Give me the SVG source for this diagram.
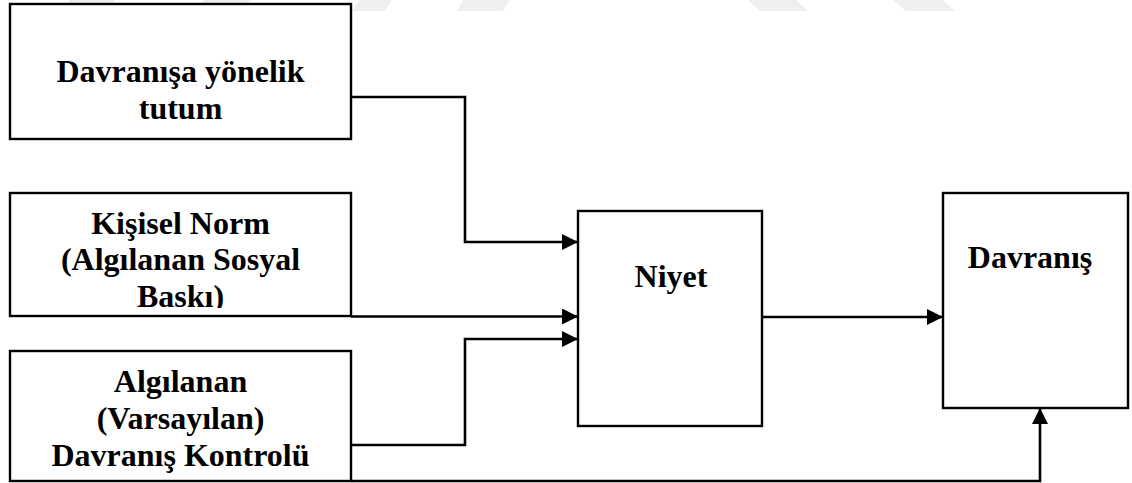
<svg xmlns="http://www.w3.org/2000/svg" width="1132" height="483" viewBox="0 0 1132 483">
<style>
.box{fill:#fff;stroke:#000;stroke-width:2.4}
.lbl{font-family:"Liberation Serif","Times New Roman",serif;font-weight:bold;font-size:32px;fill:#000;text-anchor:middle}
.con{fill:none;stroke:#000;stroke-width:2.6}
.wm{fill:#efefef}
</style>
<defs>
<marker id="arr" markerUnits="userSpaceOnUse" markerWidth="18" markerHeight="17" refX="16" refY="8" orient="auto">
<path d="M0,0 L16,8 L0,16 Z" fill="#000"/>
</marker>
<clipPath id="clip2"><rect x="10" y="193" width="341" height="115"/></clipPath>
</defs>
<rect width="1132" height="483" fill="#fff"/>
<g id="watermark">
<polygon class="wm" points="70,0 115,0 108,11 62,11"/>
<polygon class="wm" points="204,0 250,0 243,11 196,11"/>
<polygon class="wm" points="360,0 392,0 385,11 352,11"/>
<polygon class="wm" points="463,0 510,0 503,11 457,11"/>
<polygon class="wm" points="748,0 796,0 808,11 760,11"/>
<polygon class="wm" points="893,0 942,0 956,11 906,11"/>
</g>
<g id="node-tutum">
<rect class="box" x="10" y="4" width="341" height="135"/>
<text class="lbl" x="180.5" y="82">Davranışa yönelik</text>
<text class="lbl" x="180.5" y="119">tutum</text>
</g>
<g id="node-norm">
<rect class="box" x="10" y="193" width="341" height="123"/>
<g clip-path="url(#clip2)">
<text class="lbl" x="180.5" y="233.5">Kişisel Norm</text>
<text class="lbl" x="180.5" y="270">(Algılanan Sosyal</text>
<text class="lbl" x="180.5" y="307">Baskı)</text>
</g>
</g>
<g id="node-kontrol">
<rect class="box" x="10" y="351" width="341" height="130"/>
<text class="lbl" x="180.5" y="392">Algılanan</text>
<text class="lbl" x="180.5" y="429">(Varsayılan)</text>
<text class="lbl" x="180.5" y="466">Davranış Kontrolü</text>
</g>
<g id="node-niyet">
<rect class="box" x="578" y="211" width="184" height="215"/>
<text class="lbl" x="671" y="287">Niyet</text>
</g>
<g id="node-davranis">
<rect class="box" x="943" y="193" width="185" height="215"/>
<text class="lbl" x="1030" y="268">Davranış</text>
</g>
<g id="connectors">
<path class="con" d="M351,97 H465 V242 H578" marker-end="url(#arr)"/>
<path class="con" d="M351,316.5 H578" marker-end="url(#arr)"/>
<path class="con" d="M351,445 H465 V339 H578" marker-end="url(#arr)"/>
<path class="con" d="M762,317 H943" marker-end="url(#arr)"/>
<path class="con" d="M351,481 H1040 V408" marker-end="url(#arr)"/>
</g>
</svg>
